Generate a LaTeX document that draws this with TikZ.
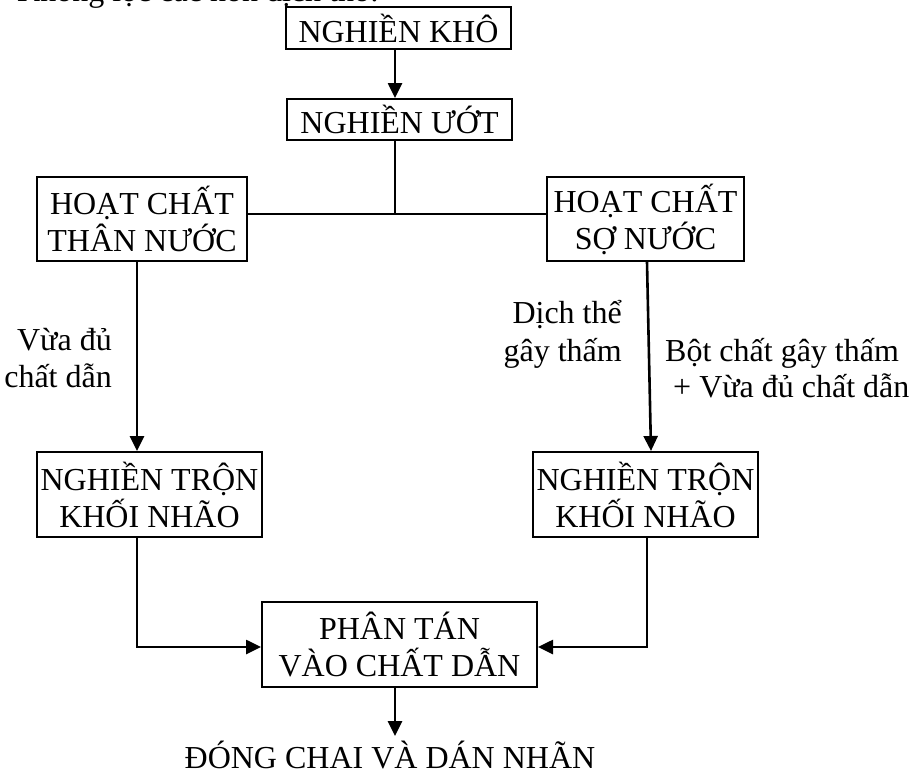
\documentclass[tikz,border=0pt]{standalone}
\usepackage{fontspec}
\setmainfont{Liberation Serif}
\usetikzlibrary{arrows.meta,calc}
\begin{document}
\begin{tikzpicture}[x=1pt,y=-1pt,
  font=\fontsize{32}{37}\selectfont,
  box/.style={draw, line width=2pt, align=center, inner sep=0pt},
  conn/.style={line width=2.6pt},
  arr/.style={conn, -{Triangle[length=15pt,width=14pt]}},
  lbl/.style={inner sep=0pt}]
\useasboundingbox (0,0) rectangle (918,776);
\clip (0,0) rectangle (918,776);
\node[lbl, anchor=base west] (top) at (17,1.5) {Không lọc các hỗn dịch thô:};
\node[box, minimum width=225pt, minimum height=42pt] (b1) at (398.5,28) {NGHIỀN KHÔ};
\node[box, minimum width=225pt, minimum height=41pt] (b2) at (399.5,119.5) {NGHIỀN ƯỚT};
\node[box, minimum width=210pt, minimum height=84pt] (b3) at (142,219) {HOẠT CHẤT\\THÂN NƯỚC};
\node[box, minimum width=197pt, minimum height=84pt] (b4) at (645.5,219) {HOẠT CHẤT\\SỢ NƯỚC};
\node[box, minimum width=225pt, minimum height=85pt] (b5) at (149.5,494.5) {NGHIỀN TRỘN\\KHỐI NHÃO};
\node[box, minimum width=225pt, minimum height=85pt] (b6) at (645.5,494.5) {NGHIỀN TRỘN\\KHỐI NHÃO};
\node[box, minimum width=275pt, minimum height=85pt] (b7) at (399.5,644.5) {PHÂN TÁN\\VÀO CHẤT DẪN};
\node[lbl, anchor=base] (b8) at (390,768) {ĐÓNG CHAI VÀ DÁN NHÃN};
\node[lbl, anchor=base east] (l1a) at (112,350) {Vừa đủ};
\node[lbl, anchor=base east] (l1b) at (112,387) {chất dẫn};
\node[lbl, anchor=base east] (l2a) at (622,323) {Dịch thể};
\node[lbl, anchor=base east] (l2b) at (622,361) {gây thấm};
\node[lbl, anchor=base west] (l3a) at (665,361) {Bột chất gây thấm};
\node[lbl, anchor=base west] (l3b) at (673,397) {+ Vừa đủ chất dẫn};
\coordinate (j) at (395,214);
\coordinate (e8) at (395,736);
\draw[arr] ($(b1.south)+(-3.5,0)$) -- ($(b2.north)+(-4.5,0)$);
\draw[conn] ($(b2.south)+(-4.5,0)$) -- (j);
\draw[conn] (b3.east |- j) -- (b4.west |- j);
\draw[arr] ($(b3.south)+(-5,0)$) -- ($(b5.north)+(-12.5,0)$);
\draw[arr] ($(b4.south)+(1.5,0)$) -- ($(b6.north)+(5.5,0)$);
\draw[arr] ($(b5.south)+(-12.5,0)$) |- ($(b7.west)+(0,2.5)$);
\draw[arr] ($(b6.south)+(1.5,0)$) |- ($(b7.east)+(0,2.5)$);
\draw[arr] ($(b7.south)+(-4.5,0)$) -- (e8);
\end{tikzpicture}
\end{document}
